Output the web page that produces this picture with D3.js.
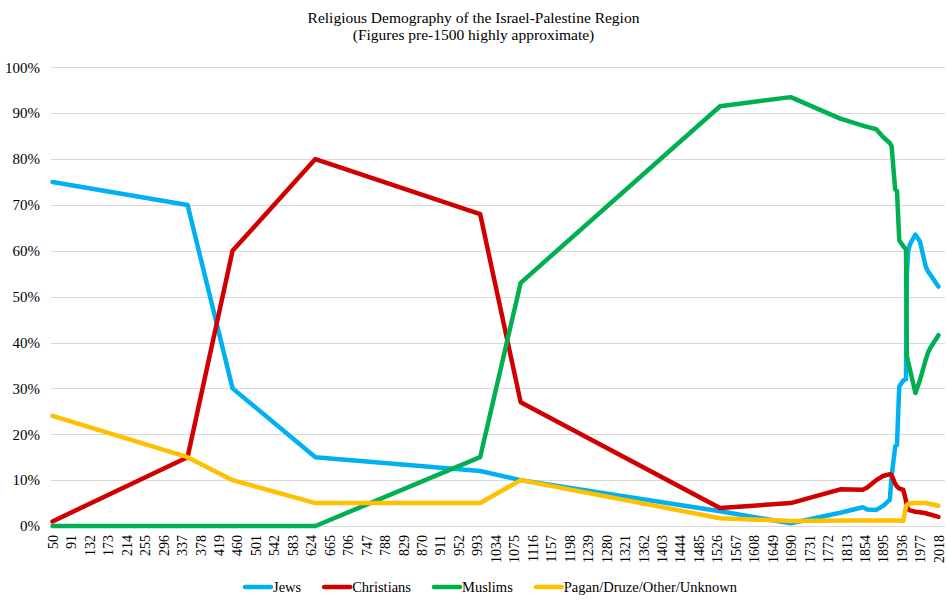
<!DOCTYPE html>
<html>
<head>
<meta charset="utf-8">
<script src="https://cdn.jsdelivr.net/npm/d3@7"></script>
<style>
body { margin: 0; background: #fff; }
text { font-family: "Liberation Serif", "DejaVu Serif", serif; fill: #000; }
</style>
</head>
<body>
<div id="chart"></div>
<script>

// years shared by every series (Excel date axis)
var years = [50, 350, 450, 634, 1000, 1090, 1533, 1690, 1800, 1850, 1860, 1880, 1895, 1910, 1914, 1922, 1926, 1931, 1940, 1946, 1948, 1951, 1955, 1967, 1977, 1990, 1995, 2000, 2018];

var jews       = [75, 70, 30, 15, 12, 10, 3.2, 0.6, 2.9, 4.1, 3.6, 3.5, 4.4, 5.7, 10.8, 17.3, 17.7, 30.4, 31.7, 32, 55, 60, 61.5, 63.5, 62, 56.5, 55.5, 54.8, 52.2];
var christians = [1, 15, 60, 80, 68, 27, 3.9, 5, 8, 7.9, 8.4, 10, 10.9, 11.3, 11.1, 9.2, 8.6, 8.2, 7.9, 5.5, 4.3, 3.6, 3.4, 3.1, 3.0, 2.8, 2.6, 2.5, 2.0];
var muslims    = [0, 0, 0, 0, 15, 53, 91.5, 93.5, 88.8, 87.3, 87, 86.5, 84.8, 83.5, 82.8, 73.4, 73, 62.3, 61, 60.3, 37, 35.7, 34, 29, 31.8, 36.3, 37.8, 38.8, 41.6];
var others     = [24, 15, 10, 5, 5, 10, 1.7, 1.1, 1.2, 1.2, 1.2, 1.2, 1.2, 1.2, 1.2, 1.2, 1.2, 1.2, 1.1, 4.3, 4.6, 4.8, 4.9, 5, 5, 5, 4.9, 4.8, 4.4];

var seriesNames  = ["Jews", "Christians", "Muslims", "Pagan/Druze/Other/Unknown"];
var seriesColors = ["#00B0F0", "#D00000", "#00B050", "#FFC000"];

var xTickLabels = [50, 91, 132, 173, 214, 255, 296, 337, 378, 419, 460, 501, 542, 583, 624, 665, 706, 747, 788, 829, 870, 911, 952, 993, 1034, 1075, 1116, 1157, 1198, 1239, 1280, 1321, 1362, 1403, 1444, 1485, 1526, 1567, 1608, 1649, 1690, 1731, 1772, 1813, 1854, 1895, 1936, 1977, 2018];
var yTicks = [0, 10, 20, 30, 40, 50, 60, 70, 80, 90, 100];

var titleLines = ["Religious Demography of the Israel-Palestine Region", "(Figures pre-1500 highly approximate)"];

var W = 947, H = 606;
var plotLeft = 51, plotRight = 945;

var svg = d3.select("#chart").append("svg")
			.attr("width", W)
			.attr("height", H);

var xScale = d3.scaleLinear().domain([50, 2018]).range([52.5, 938.4]);
var yScale = d3.scaleLinear().domain([0, 100]).range([526, 67.3]);

// title
svg.selectAll("text.title")
   .data(titleLines)
   .enter()
   .append("text")
   .attr("class", "title")
   .attr("x", W / 2)
   .attr("y", function(d, i){ return 23 + i * 17; })
   .attr("text-anchor", "middle")
   .style("font-size", "15.5px")
   .text(function(d){ return d; });

// gridlines
svg.selectAll("line.grid")
   .data(yTicks)
   .enter()
   .append("line")
   .attr("class", "grid")
   .attr("x1", plotLeft)
   .attr("x2", plotRight)
   .attr("y1", function(d){ return Math.round(yScale(d)) + 0.5; })
   .attr("y2", function(d){ return Math.round(yScale(d)) + 0.5; })
   .attr("stroke", "#D9D9D9")
   .attr("stroke-width", 1);

// y axis labels
var yAxis = d3.axisLeft(yScale)
			  .tickValues(yTicks)
			  .tickSize(0)
			  .tickPadding(0)
			  .tickFormat(function(d){ return d + "%"; });

svg.append("g")
   .attr("transform", "translate(40,0)")
   .call(yAxis)
   .attr("font-family", null)
   .call(function(g){ g.select(".domain").remove(); })
   .selectAll("text")
   .style("font-family", "'Liberation Serif', serif")
   .style("font-size", "15px")
   .attr("fill", "#000");

// x axis labels, rotated
var xAxis = d3.axisBottom(xScale)
			  .tickValues(xTickLabels)
			  .tickSize(0)
			  .tickFormat(function(d){ return d; });

svg.append("g")
   .attr("transform", "translate(0,535)")
   .call(xAxis)
   .attr("font-family", null)
   .call(function(g){ g.select(".domain").remove(); })
   .selectAll("text")
   .style("font-family", "'Liberation Serif', serif")
   .style("font-size", "14px")
   .attr("fill", "#000")
   .attr("y", 0)
   .attr("x", 0)
   .attr("dy", "0.35em")
   .attr("transform", "rotate(-90)")
   .attr("text-anchor", "end");

// lines
var allSeries = [jews, christians, muslims, others];
var line = d3.line()
			 .x(function(d, i){ return xScale(years[i]); })
			 .y(function(d){ return yScale(d); });

svg.selectAll("path.series")
   .data(allSeries)
   .enter()
   .append("path")
   .attr("class", "series")
   .attr("d", line)
   .attr("fill", "none")
   .attr("stroke", function(d, i){ return seriesColors[i]; })
   .attr("stroke-width", 4.5)
   .attr("stroke-linejoin", "round")
   .attr("stroke-linecap", "round");

// legend
var legend = svg.append("g").attr("transform", "translate(243,587)");
var lx = 0;
seriesNames.forEach(function(name, i){
	var item = legend.append("g").attr("transform", "translate(" + lx + ",0)");
	item.append("line")
		.attr("x1", 2).attr("x2", 28)
		.attr("y1", 0).attr("y2", 0)
		.attr("stroke", seriesColors[i])
		.attr("stroke-width", 4.5)
		.attr("stroke-linecap", "round");
	var t = item.append("text")
		.attr("x", 30)
		.attr("dy", "0.35em")
		.style("font-size", "14.5px")
		.text(name);
	lx += 30 + t.node().getComputedTextLength() + 21;
});

</script>
</body>
</html>
